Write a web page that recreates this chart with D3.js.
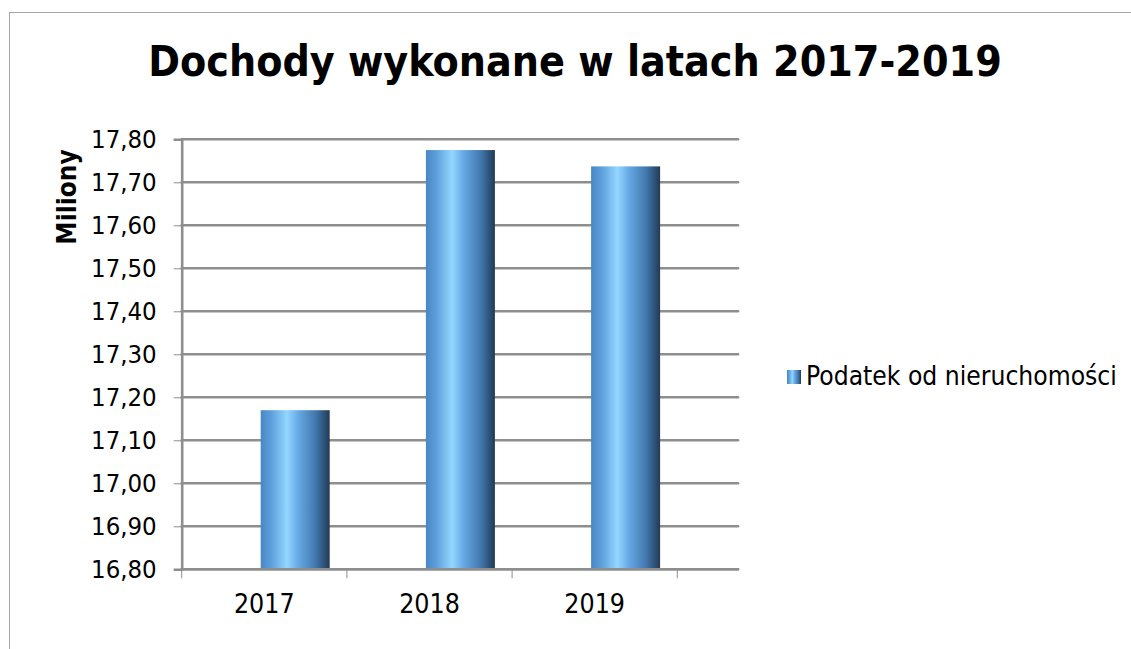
<!DOCTYPE html>
<html>
<head>
<meta charset="utf-8">
<script src="https://cdn.jsdelivr.net/npm/d3@7"></script>
<style>
  body { margin: 0; background: #fff; }
  svg text { font-family: "DejaVu Sans Condensed", "DejaVu Sans", sans-serif; fill: #000; }
</style>
</head>
<body>
<div id="container"></div>
<script>
/* DATA */
const years = ["2017", "2018", "2019"];
const values = [17.17, 17.775, 17.737];
const yTicks = [16.8, 16.9, 17.0, 17.1, 17.2, 17.3, 17.4, 17.5, 17.6, 17.7, 17.8];
const seriesName = "Podatek od nieruchomości";
const title = "Dochody wykonane w latach 2017-2019";
const yTitle = "Miliony";

const width = 1131, height = 649;

const svg = d3.select("#container")
  .append("svg")
  .attr("width", width)
  .attr("height", height);

// outer frame
svg.append("rect")
  .attr("x", 9.5).attr("y", 12.5)
  .attr("width", width + 10).attr("height", height + 10)
  .attr("fill", "none")
  .attr("stroke", "#a6a6a6");

// bar gradient
const grad = svg.append("defs").append("linearGradient")
  .attr("id", "barGrad")
  .attr("x1", "0%").attr("x2", "100%").attr("y1", "0%").attr("y2", "0%");
[["0%", "#4a86c4"], ["15%", "#5c9fdc"], ["38%", "#93d6ff"], ["55%", "#65a8e4"],
 ["80%", "#4277ad"], ["100%", "#223a55"]]
  .forEach(s => grad.append("stop").attr("offset", s[0]).attr("stop-color", s[1]));

// SCALES
const y = d3.scaleLinear()
  .domain([16.8, 17.8])
  .range([569.3, 139.3]);

const x = d3.scaleBand()
  .domain(years)
  .range([181.7, 677.3]);

const gridRight = 738;
const fmt = d3.formatLocale({decimal: ",", thousands: " ", grouping: [3], currency: ["", ""]}).format(".2f");

// gridlines
svg.append("g")
  .selectAll("line")
  .data(yTicks)
  .join("line")
  .attr("x1", 181.7).attr("x2", gridRight)
  .attr("y1", d => y(d)).attr("y2", d => y(d))
  .attr("stroke", "#8e8e8e")
  .attr("stroke-width", 2.6)
  .attr("stroke-linecap", "round");

// y axis
const yAxis = svg.append("g")
  .attr("transform", "translate(181.7,0)")
  .call(d3.axisLeft(y).tickValues(yTicks).tickFormat(fmt).tickSize(8).tickPadding(17));
yAxis.select(".domain").attr("stroke", "#8e8e8e").attr("stroke-width", 2.6);
yAxis.selectAll(".tick line").attr("stroke", "#8e8e8e").attr("stroke-width", 1);
yAxis.selectAll(".tick text")
  .style("font-size", "25.5px")
  .style("font-family", "'DejaVu Sans Condensed', sans-serif")
  .attr("fill", "#000");

// bars
svg.append("g")
  .selectAll("rect")
  .data(years)
  .join("rect")
  .attr("x", d => x(d) + 79)
  .attr("width", 69)
  .attr("y", (d, i) => y(values[i]))
  .attr("height", (d, i) => y(16.8) - y(values[i]))
  .attr("fill", "url(#barGrad)");

// x axis
const xAxis = svg.append("g")
  .attr("transform", "translate(0,569.3)");
xAxis.append("line")
  .attr("x1", 181.7).attr("x2", gridRight)
  .attr("stroke", "#8e8e8e").attr("stroke-width", 2.6).attr("stroke-linecap", "round");
const tickXs = years.map(d => x(d)).concat([x.range()[1]]);
xAxis.selectAll("line.tk")
  .data(tickXs)
  .join("line")
  .attr("class", "tk")
  .attr("x1", d => d).attr("x2", d => d)
  .attr("y1", 0).attr("y2", 9)
  .attr("stroke", "#8e8e8e").attr("stroke-width", 1);
xAxis.selectAll("text")
  .data(years)
  .join("text")
  .attr("x", d => x(d) + x.bandwidth() / 2)
  .attr("y", 44)
  .attr("text-anchor", "middle")
  .style("font-size", "26.5px")
  .text(d => d);

// title
svg.append("text")
  .attr("x", 575)
  .attr("y", 76)
  .attr("text-anchor", "middle")
  .style("font-size", "42.5px")
  .style("font-weight", "bold")
  .text(title);

// y title
svg.append("text")
  .attr("transform", "translate(76,197) rotate(-90)")
  .attr("text-anchor", "middle")
  .style("font-size", "26px")
  .style("font-weight", "bold")
  .text(yTitle);

// legend
const lg = svg.append("g").attr("transform", "translate(787,370)");
lg.append("rect")
  .attr("width", 14).attr("height", 14)
  .attr("fill", "url(#barGrad)");
lg.append("text")
  .attr("x", 19)
  .attr("y", 15)
  .style("font-size", "26.2px")
  .text(seriesName);
</script>
</body>
</html>
